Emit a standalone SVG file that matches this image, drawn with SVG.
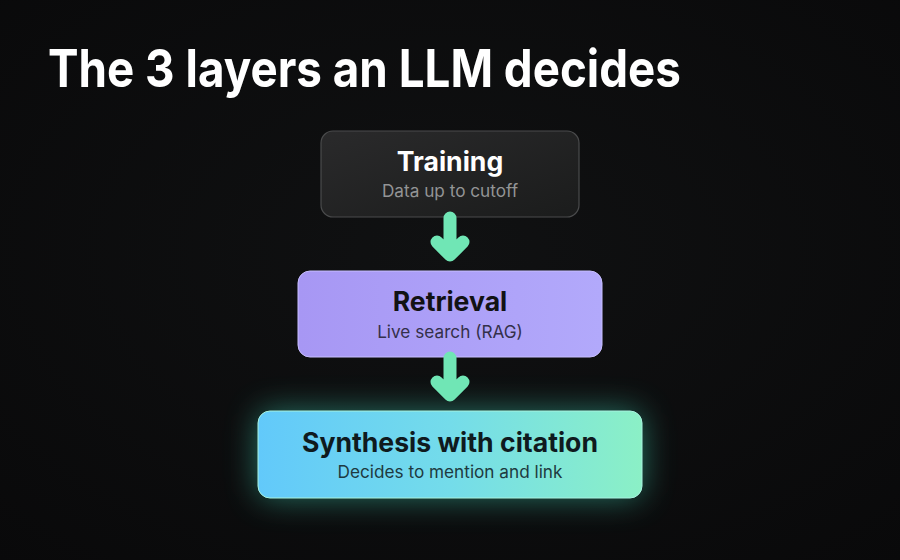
<svg xmlns="http://www.w3.org/2000/svg" width="900" height="560" viewBox="0 0 900 560">
  <defs>
    <radialGradient id="bg" cx="0.5" cy="0.45" r="0.75">
      <stop offset="0" stop-color="#101112"/>
      <stop offset="1" stop-color="#09090a"/>
    </radialGradient>
    <linearGradient id="gTrain" x1="0" y1="0" x2="1" y2="1">
      <stop offset="0" stop-color="#2a2a2b"/>
      <stop offset="1" stop-color="#1b1c1c"/>
    </linearGradient>
    <linearGradient id="gRet" x1="0" y1="0" x2="1" y2="0">
      <stop offset="0" stop-color="#a797f4"/>
      <stop offset="1" stop-color="#b2a9fb"/>
    </linearGradient>
    <linearGradient id="gSyn" x1="0" y1="0" x2="1" y2="0">
      <stop offset="0" stop-color="#62c9fa"/>
      <stop offset="0.5" stop-color="#74dcea"/>
      <stop offset="1" stop-color="#8bf0c6"/>
    </linearGradient>
    <filter id="glow" x="-30%" y="-70%" width="160%" height="240%">
      <feGaussianBlur stdDeviation="16"/>
    </filter>
  </defs>
  <style>
    .title { font-family: Inter, "Liberation Sans", sans-serif; font-weight: 700; }
    .ntitle { font-family: Inter, "Liberation Sans", sans-serif; font-weight: 700; text-anchor: middle; font-size: 26.6px; }
    .nsub { font-family: Inter, "Liberation Sans", sans-serif; font-weight: 400; text-anchor: middle; font-size: 17.2px; }
    .arrow { fill: none; stroke: #70e6b5; stroke-width: 13; stroke-linecap: round; stroke-linejoin: round; }
  </style>
  <rect width="900" height="560" fill="url(#bg)"/>

  <text class="title" x="48" y="87" font-size="52" fill="#ffffff" textLength="633" lengthAdjust="spacingAndGlyphs">The 3 layers an LLM decides</text>

  <g id="training">
    <rect x="321" y="131" width="258" height="86" rx="12" fill="url(#gTrain)" stroke="#4a4b4c" stroke-width="1.2"/>
    <text class="ntitle" x="450" y="171" fill="#ffffff">Training</text>
    <text class="nsub" x="450" y="197" fill="#939495">Data up to cutoff</text>
  </g>

  <g id="retrieval">
    <rect x="298" y="271" width="304" height="86" rx="12" fill="url(#gRet)" stroke="#c7beff" stroke-width="1"/>
    <text class="ntitle" x="450" y="311" fill="#121214">Retrieval</text>
    <text class="nsub" x="450" y="338" fill="#34304a">Live search (RAG)</text>
  </g>

  <g id="synthesis">
    <rect x="258" y="411" width="384" height="87" rx="12" fill="#3fd6b8" opacity="0.5" filter="url(#glow)"/>
    <rect x="258" y="411" width="384" height="87" rx="12" fill="url(#gSyn)" stroke="#a8f3e0" stroke-width="1"/>
    <text class="ntitle" x="450" y="452" fill="#0f1a1e">Synthesis with citation</text>
    <text class="nsub" x="450" y="478" fill="#1e3a40">Decides to mention and link</text>
  </g>

  <g id="connectors">
    <path class="arrow" d="M450 218 V254 M437 242 L450 255 L463 242"/>
    <path class="arrow" d="M450 358 V394 M437 382 L450 395 L463 382"/>
  </g>
</svg>
